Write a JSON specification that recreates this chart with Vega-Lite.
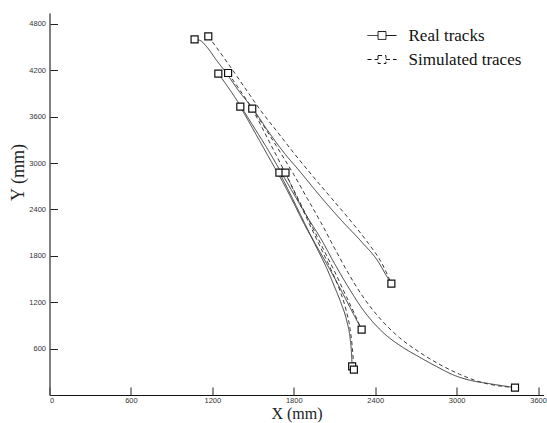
{
  "$schema": "https://vega.github.io/schema/vega-lite/v6.json",
  "width": 494,
  "height": 382,
  "autosize": "none",
  "padding": {"left": 49.5, "top": 13, "right": 3.5, "bottom": 28},
  "background": "white",
  "config": {
    "view": {"stroke": null},
    "axis": {
      "grid": false,
      "labelFont": "Liberation Sans",
      "labelFontSize": 7.5,
      "labelColor": "#333",
      "tickColor": "#222",
      "tickSize": -8,
      "tickWidth": 1,
      "format": "d",
      "titleFont": "Liberation Serif",
      "titleFontWeight": "normal",
      "titleColor": "#222"
    }
  },
  "datasets": {
    "tracks": [
      {"series": "R1", "type": "Real tracks", "i": 0, "x": 1069, "y": 4600},
      {"series": "R1", "type": "Real tracks", "i": 1, "x": 1110, "y": 4585},
      {"series": "R1", "type": "Real tracks", "i": 2, "x": 1160, "y": 4500},
      {"series": "R1", "type": "Real tracks", "i": 3, "x": 1230, "y": 4330},
      {"series": "R1", "type": "Real tracks", "i": 4, "x": 1300, "y": 4170},
      {"series": "R1", "type": "Real tracks", "i": 5, "x": 1400, "y": 3920},
      {"series": "R1", "type": "Real tracks", "i": 6, "x": 1500, "y": 3700},
      {"series": "R1", "type": "Real tracks", "i": 7, "x": 1600, "y": 3440},
      {"series": "R1", "type": "Real tracks", "i": 8, "x": 1714, "y": 3164},
      {"series": "R1", "type": "Real tracks", "i": 9, "x": 1850, "y": 2880},
      {"series": "R1", "type": "Real tracks", "i": 10, "x": 2000, "y": 2560},
      {"series": "R1", "type": "Real tracks", "i": 11, "x": 2150, "y": 2260},
      {"series": "R1", "type": "Real tracks", "i": 12, "x": 2300, "y": 1980},
      {"series": "R1", "type": "Real tracks", "i": 13, "x": 2420, "y": 1730},
      {"series": "R1", "type": "Real tracks", "i": 14, "x": 2490, "y": 1520},
      {"series": "R1", "type": "Real tracks", "i": 15, "x": 2519, "y": 1440},
      {"series": "S1", "type": "Simulated traces", "i": 0, "x": 1170, "y": 4638},
      {"series": "S1", "type": "Simulated traces", "i": 1, "x": 1220, "y": 4520},
      {"series": "S1", "type": "Simulated traces", "i": 2, "x": 1290, "y": 4350},
      {"series": "S1", "type": "Simulated traces", "i": 3, "x": 1370, "y": 4150},
      {"series": "S1", "type": "Simulated traces", "i": 4, "x": 1460, "y": 3920},
      {"series": "S1", "type": "Simulated traces", "i": 5, "x": 1560, "y": 3670},
      {"series": "S1", "type": "Simulated traces", "i": 6, "x": 1680, "y": 3400},
      {"series": "S1", "type": "Simulated traces", "i": 7, "x": 1800, "y": 3130},
      {"series": "S1", "type": "Simulated traces", "i": 8, "x": 1940, "y": 2830},
      {"series": "S1", "type": "Simulated traces", "i": 9, "x": 2080, "y": 2540},
      {"series": "S1", "type": "Simulated traces", "i": 10, "x": 2220, "y": 2250},
      {"series": "S1", "type": "Simulated traces", "i": 11, "x": 2350, "y": 1960},
      {"series": "S1", "type": "Simulated traces", "i": 12, "x": 2450, "y": 1700},
      {"series": "S1", "type": "Simulated traces", "i": 13, "x": 2519, "y": 1440},
      {"series": "R2", "type": "Real tracks", "i": 0, "x": 1244, "y": 4156},
      {"series": "R2", "type": "Real tracks", "i": 1, "x": 1300, "y": 4020},
      {"series": "R2", "type": "Real tracks", "i": 2, "x": 1400, "y": 3760},
      {"series": "R2", "type": "Real tracks", "i": 3, "x": 1500, "y": 3480},
      {"series": "R2", "type": "Real tracks", "i": 4, "x": 1600, "y": 3200},
      {"series": "R2", "type": "Real tracks", "i": 5, "x": 1700, "y": 2900},
      {"series": "R2", "type": "Real tracks", "i": 6, "x": 1800, "y": 2600},
      {"series": "R2", "type": "Real tracks", "i": 7, "x": 1900, "y": 2300},
      {"series": "R2", "type": "Real tracks", "i": 8, "x": 2000, "y": 2020},
      {"series": "R2", "type": "Real tracks", "i": 9, "x": 2100, "y": 1700},
      {"series": "R2", "type": "Real tracks", "i": 10, "x": 2200, "y": 1400},
      {"series": "R2", "type": "Real tracks", "i": 11, "x": 2313, "y": 1095},
      {"series": "R2", "type": "Real tracks", "i": 12, "x": 2467, "y": 794},
      {"series": "R2", "type": "Real tracks", "i": 13, "x": 2600, "y": 620},
      {"series": "R2", "type": "Real tracks", "i": 14, "x": 2725, "y": 491},
      {"series": "R2", "type": "Real tracks", "i": 15, "x": 2850, "y": 370},
      {"series": "R2", "type": "Real tracks", "i": 16, "x": 2982, "y": 255},
      {"series": "R2", "type": "Real tracks", "i": 17, "x": 3100, "y": 190},
      {"series": "R2", "type": "Real tracks", "i": 18, "x": 3240, "y": 147},
      {"series": "R2", "type": "Real tracks", "i": 19, "x": 3430, "y": 96},
      {"series": "S2", "type": "Simulated traces", "i": 0, "x": 1316, "y": 4164},
      {"series": "S2", "type": "Simulated traces", "i": 1, "x": 1400, "y": 3950},
      {"series": "S2", "type": "Simulated traces", "i": 2, "x": 1500, "y": 3690},
      {"series": "S2", "type": "Simulated traces", "i": 3, "x": 1600, "y": 3420},
      {"series": "S2", "type": "Simulated traces", "i": 4, "x": 1700, "y": 3140},
      {"series": "S2", "type": "Simulated traces", "i": 5, "x": 1800, "y": 2850},
      {"series": "S2", "type": "Simulated traces", "i": 6, "x": 1900, "y": 2540},
      {"series": "S2", "type": "Simulated traces", "i": 7, "x": 2000, "y": 2230},
      {"series": "S2", "type": "Simulated traces", "i": 8, "x": 2100, "y": 1900},
      {"series": "S2", "type": "Simulated traces", "i": 9, "x": 2200, "y": 1580},
      {"series": "S2", "type": "Simulated traces", "i": 10, "x": 2310, "y": 1270},
      {"series": "S2", "type": "Simulated traces", "i": 11, "x": 2440, "y": 980},
      {"series": "S2", "type": "Simulated traces", "i": 12, "x": 2580, "y": 740},
      {"series": "S2", "type": "Simulated traces", "i": 13, "x": 2720, "y": 560},
      {"series": "S2", "type": "Simulated traces", "i": 14, "x": 2870, "y": 400},
      {"series": "S2", "type": "Simulated traces", "i": 15, "x": 3020, "y": 270},
      {"series": "S2", "type": "Simulated traces", "i": 16, "x": 3170, "y": 170},
      {"series": "S2", "type": "Simulated traces", "i": 17, "x": 3310, "y": 118},
      {"series": "S2", "type": "Simulated traces", "i": 18, "x": 3430, "y": 96},
      {"series": "R3", "type": "Real tracks", "i": 0, "x": 1406, "y": 3729},
      {"series": "R3", "type": "Real tracks", "i": 1, "x": 1480, "y": 3500},
      {"series": "R3", "type": "Real tracks", "i": 2, "x": 1560, "y": 3250},
      {"series": "R3", "type": "Real tracks", "i": 3, "x": 1640, "y": 3000},
      {"series": "R3", "type": "Real tracks", "i": 4, "x": 1720, "y": 2750},
      {"series": "R3", "type": "Real tracks", "i": 5, "x": 1800, "y": 2480},
      {"series": "R3", "type": "Real tracks", "i": 6, "x": 1880, "y": 2200},
      {"series": "R3", "type": "Real tracks", "i": 7, "x": 1960, "y": 1950},
      {"series": "R3", "type": "Real tracks", "i": 8, "x": 2070, "y": 1611},
      {"series": "R3", "type": "Real tracks", "i": 9, "x": 2150, "y": 1350},
      {"series": "R3", "type": "Real tracks", "i": 10, "x": 2230, "y": 1080},
      {"series": "R3", "type": "Real tracks", "i": 11, "x": 2300, "y": 846},
      {"series": "S3", "type": "Simulated traces", "i": 0, "x": 1494, "y": 3703},
      {"series": "S3", "type": "Simulated traces", "i": 1, "x": 1560, "y": 3480},
      {"series": "S3", "type": "Simulated traces", "i": 2, "x": 1630, "y": 3240},
      {"series": "S3", "type": "Simulated traces", "i": 3, "x": 1700, "y": 3000},
      {"series": "S3", "type": "Simulated traces", "i": 4, "x": 1780, "y": 2720},
      {"series": "S3", "type": "Simulated traces", "i": 5, "x": 1860, "y": 2440},
      {"series": "S3", "type": "Simulated traces", "i": 6, "x": 1940, "y": 2160},
      {"series": "S3", "type": "Simulated traces", "i": 7, "x": 2020, "y": 1880},
      {"series": "S3", "type": "Simulated traces", "i": 8, "x": 2100, "y": 1600},
      {"series": "S3", "type": "Simulated traces", "i": 9, "x": 2180, "y": 1300},
      {"series": "S3", "type": "Simulated traces", "i": 10, "x": 2250, "y": 1040},
      {"series": "S3", "type": "Simulated traces", "i": 11, "x": 2300, "y": 846},
      {"series": "R4", "type": "Real tracks", "i": 0, "x": 1694, "y": 2876},
      {"series": "R4", "type": "Real tracks", "i": 1, "x": 1760, "y": 2650},
      {"series": "R4", "type": "Real tracks", "i": 2, "x": 1830, "y": 2400},
      {"series": "R4", "type": "Real tracks", "i": 3, "x": 1900, "y": 2150},
      {"series": "R4", "type": "Real tracks", "i": 4, "x": 1970, "y": 1900},
      {"series": "R4", "type": "Real tracks", "i": 5, "x": 2040, "y": 1650},
      {"series": "R4", "type": "Real tracks", "i": 6, "x": 2100, "y": 1400},
      {"series": "R4", "type": "Real tracks", "i": 7, "x": 2150, "y": 1180},
      {"series": "R4", "type": "Real tracks", "i": 8, "x": 2190, "y": 960},
      {"series": "R4", "type": "Real tracks", "i": 9, "x": 2217, "y": 705},
      {"series": "R4", "type": "Real tracks", "i": 10, "x": 2225, "y": 550},
      {"series": "R4", "type": "Real tracks", "i": 11, "x": 2230, "y": 371},
      {"series": "S4", "type": "Simulated traces", "i": 0, "x": 1739, "y": 2876},
      {"series": "S4", "type": "Simulated traces", "i": 1, "x": 1800, "y": 2640},
      {"series": "S4", "type": "Simulated traces", "i": 2, "x": 1870, "y": 2380},
      {"series": "S4", "type": "Simulated traces", "i": 3, "x": 1940, "y": 2120},
      {"series": "S4", "type": "Simulated traces", "i": 4, "x": 2010, "y": 1860},
      {"series": "S4", "type": "Simulated traces", "i": 5, "x": 2080, "y": 1600},
      {"series": "S4", "type": "Simulated traces", "i": 6, "x": 2140, "y": 1350},
      {"series": "S4", "type": "Simulated traces", "i": 7, "x": 2185, "y": 1100},
      {"series": "S4", "type": "Simulated traces", "i": 8, "x": 2215, "y": 850},
      {"series": "S4", "type": "Simulated traces", "i": 9, "x": 2232, "y": 600},
      {"series": "S4", "type": "Simulated traces", "i": 10, "x": 2243, "y": 328}
    ],
    "markers": [
      {"type": "Real tracks", "x": 1069, "y": 4600},
      {"type": "Simulated traces", "x": 1170, "y": 4638},
      {"type": "Real tracks", "x": 1244, "y": 4156},
      {"type": "Simulated traces", "x": 1316, "y": 4164},
      {"type": "Real tracks", "x": 1406, "y": 3729},
      {"type": "Simulated traces", "x": 1494, "y": 3703},
      {"type": "Real tracks", "x": 1694, "y": 2876},
      {"type": "Simulated traces", "x": 1739, "y": 2876},
      {"type": "Real tracks", "x": 2519, "y": 1440},
      {"type": "Real tracks", "x": 2300, "y": 846},
      {"type": "Real tracks", "x": 2230, "y": 371},
      {"type": "Simulated traces", "x": 2243, "y": 328},
      {"type": "Real tracks", "x": 3430, "y": 96}
    ]
  },
  "encoding": {
    "x": {
      "field": "x",
      "type": "quantitative",
      "scale": {"domain": [0, 3640], "nice": false, "zero": false},
      "axis": {
        "values": [0, 600, 1200, 1800, 2400, 3000, 3600],
        "title": "X (mm)",
        "titleFontSize": 16,
        "titleY": 23,
        "titleBaseline": "alphabetic",
        "labelPadding": 9,
        "domainColor": "#111",
        "domainWidth": 1.2
      }
    },
    "y": {
      "field": "y",
      "type": "quantitative",
      "scale": {"domain": [0, 4940], "nice": false, "zero": false},
      "axis": {
        "values": [0, 600, 1200, 1800, 2400, 3000, 3600, 4200, 4800],
        "labelExpr": "datum.value == 0 ? '' : datum.label",
        "title": "Y (mm)",
        "titleFontSize": 18,
        "titleX": -31,
        "titleY": 159,
        "titleAngle": -90,
        "titleBaseline": "middle",
        "titleAlign": "center",
        "labelPadding": 12,
        "domainColor": "#555",
        "domainWidth": 1.5
      }
    }
  },
  "layer": [
    {
      "data": {"name": "tracks"},
      "mark": {"type": "line", "interpolate": "monotone", "strokeWidth": 1, "color": "#3a3a3a"},
      "encoding": {
        "detail": {"field": "series"},
        "order": {"field": "i", "type": "quantitative"},
        "strokeDash": {
          "field": "type",
          "type": "nominal",
          "scale": {"domain": ["Real tracks", "Simulated traces"], "range": [[1, 0], [4, 3]]},
          "legend": {
            "title": null,
            "orient": "none",
            "legendX": 322,
            "legendY": 12,
            "padding": 0,
            "symbolType": "M-1.5,0H-0.41M0.41,0H1.5M-0.41,-0.41H0.41V0.41H-0.41Z",
            "symbolSize": 373,
            "symbolStrokeColor": "#111",
            "symbolFillColor": "white",
            "symbolStrokeWidth": 1,
            "labelFont": "Liberation Serif",
            "labelFontSize": 17,
            "labelColor": "#111",
            "labelOffset": 16,
            "rowPadding": 5
          }
        }
      }
    },
    {
      "data": {"name": "markers"},
      "mark": {"type": "point", "shape": "square", "size": 49, "fill": "white", "fillOpacity": 1, "stroke": "#111", "strokeWidth": 1.2, "opacity": 1}
    }
  ]
}
